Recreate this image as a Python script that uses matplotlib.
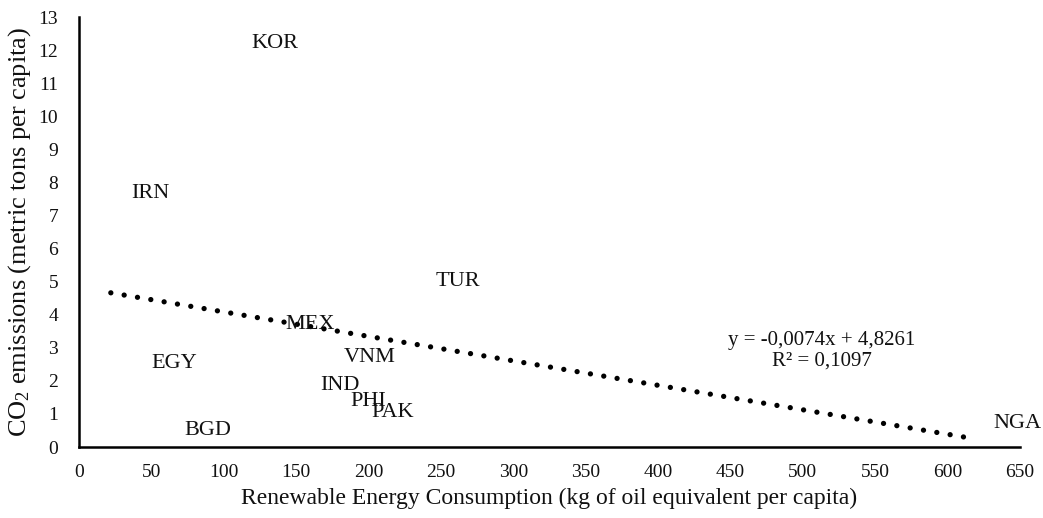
import matplotlib
matplotlib.use("Agg")
import matplotlib.pyplot as plt
import numpy as np

plt.rcParams['font.family'] = ['Liberation Serif', 'DejaVu Serif']
plt.rcParams['mathtext.fontset'] = 'custom'
plt.rcParams['mathtext.rm'] = 'Liberation Serif'
plt.rcParams['mathtext.it'] = 'Liberation Serif:italic'

countries = ["KOR", "IRN", "TUR", "MEX", "VNM", "EGY", "IND", "PHI", "PAK", "BGD", "NGA"]
renewable = [135.4, 49.0, 261.7, 159.5, 201.0, 65.6, 180.0, 199.6, 216.9, 89.0, 648.5]
co2 = [12.21, 7.68, 5.02, 3.69, 2.72, 2.54, 1.87, 1.39, 1.03, 0.51, 0.70]

slope = -0.0074
intercept = 4.8261
r2_label = "R\u00b2 = 0,1097"
eq_label = "y = -0,0074x + 4,8261"
trend_x = [22, 612]

x_ticks = list(range(0, 651, 50))
y_ticks = list(range(0, 14))

TXT = '#111111'

fig = plt.figure(figsize=(10.43, 5.18), dpi=100)
ax = fig.add_axes([0.0757, 0.137, 0.9023, 0.830])

for c, x, y in zip(countries, renewable, co2):
    ax.text(x, y, c, ha='center', va='center', fontsize=16, color=TXT)

tx = np.array(trend_x, dtype=float)
ty = slope * tx + intercept
ax.plot(tx, ty, color='black', linewidth=3.8, linestyle=(0, (0.01, 2.55)),
        dash_capstyle='round', solid_capstyle='round')

ax.text(513, 2.9, eq_label + "\n" + r2_label, ha='center', va='center',
        fontsize=15, linespacing=1.1, color=TXT)

ax.set_xlim(0, 650)
ax.set_ylim(0, 13)
ax.set_xticks(x_ticks)
ax.set_yticks(y_ticks)
ax.tick_params(length=0, labelsize=14, colors=TXT)
ax.tick_params(axis='x', pad=12)
ax.tick_params(axis='y', pad=15)
for s in ['top', 'right']:
    ax.spines[s].set_visible(False)
for s in ['left', 'bottom']:
    ax.spines[s].set_linewidth(1.8)
    ax.spines[s].set_color('black')

ax.set_xlabel("Renewable Energy Consumption (kg of oil equivalent per capita)", fontsize=17, labelpad=5, color=TXT)
ax.set_ylabel("CO$_2$ emissions (metric tons per capita)", fontsize=19, labelpad=4, color=TXT)

fig.savefig("out.png", dpi=100)
